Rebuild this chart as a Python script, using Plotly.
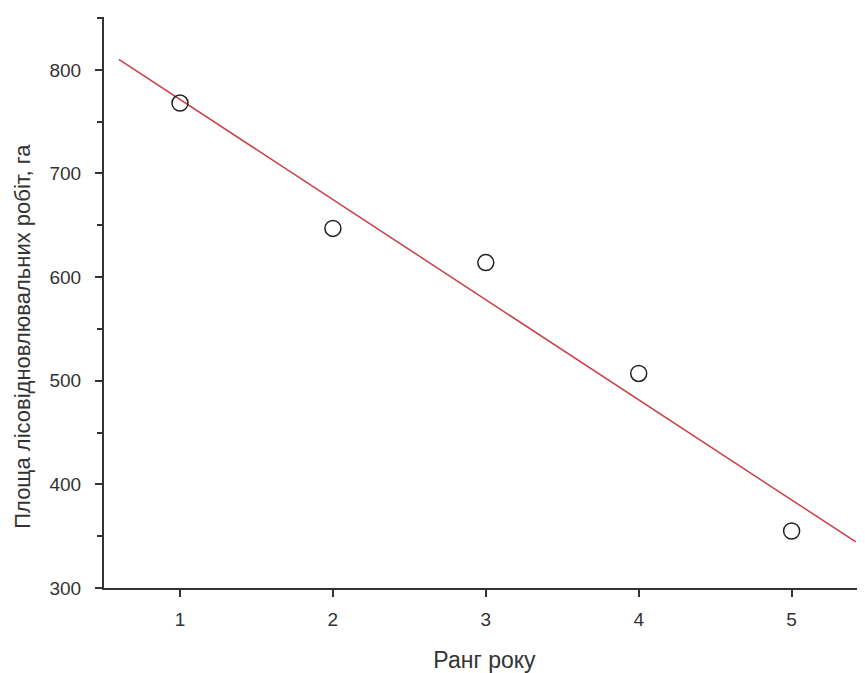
import numpy as np
import plotly.graph_objects as go

rank = [1, 2, 3, 4, 5]
area = [768, 647, 614, 507, 355]
fit_x_range = [0.6, 5.42]
x_title = "Ранг року"
y_title = "Площа лісовідновлювальних робіт, га"

coef = np.polyfit(rank, area, 1)
fit_x = np.array(fit_x_range)
fit_y = np.polyval(coef, fit_x)

fig = go.Figure()
fig.add_trace(go.Scatter(x=fit_x, y=fit_y, mode="lines",
                         line=dict(color="#cc3f45", width=1.5), showlegend=False))
fig.add_trace(go.Scatter(x=rank, y=area, mode="markers",
                         marker=dict(symbol="circle-open", size=16,
                                     line=dict(color="#222222", width=1.5), color="#222222"),
                         showlegend=False))

fam = "Liberation Sans, Arial, sans-serif"
tick_font = dict(family=fam, size=19, color="#333333")
title_font = dict(family=fam, size=23, color="#333333")
ytitle_font = dict(family=fam, size=22, color="#333333")
fig.update_layout(
    width=857, height=665,
    margin=dict(l=96, r=0, t=9, b=85, autoexpand=False),
    paper_bgcolor="white", plot_bgcolor="white",
    font=tick_font,
    xaxis=dict(range=[0.503, 5.48], tickvals=[1, 2, 3, 4, 5], ticks="outside",
               ticklen=7, tickwidth=1.5, tickcolor="#333333",
               showline=True, linecolor="#333333", linewidth=2,
               showgrid=False, zeroline=False, tickfont=tick_font,
               ticklabelstandoff=6, automargin=False,
               title=dict(text=x_title, font=title_font, standoff=26)),
    yaxis=dict(range=[300, 851], tickvals=[300, 400, 500, 600, 700, 800], ticks="outside",
               ticklen=7, tickwidth=1.5, tickcolor="#333333",
               showline=True, linecolor="#333333", linewidth=2,
               showgrid=False, zeroline=False, tickfont=tick_font,
               ticklabelstandoff=10, automargin=False,
               minor=dict(tickvals=[350, 450, 550, 650, 750, 850], ticks="outside",
                          ticklen=5, tickwidth=1.5, tickcolor="#333333", showgrid=False)),
    annotations=[dict(text=y_title, textangle=-90, xref="paper", yref="paper",
                      x=-0.107, y=0.441, xanchor="center", yanchor="middle",
                      showarrow=False, font=ytitle_font)],
)
fig.write_html("out.html")
